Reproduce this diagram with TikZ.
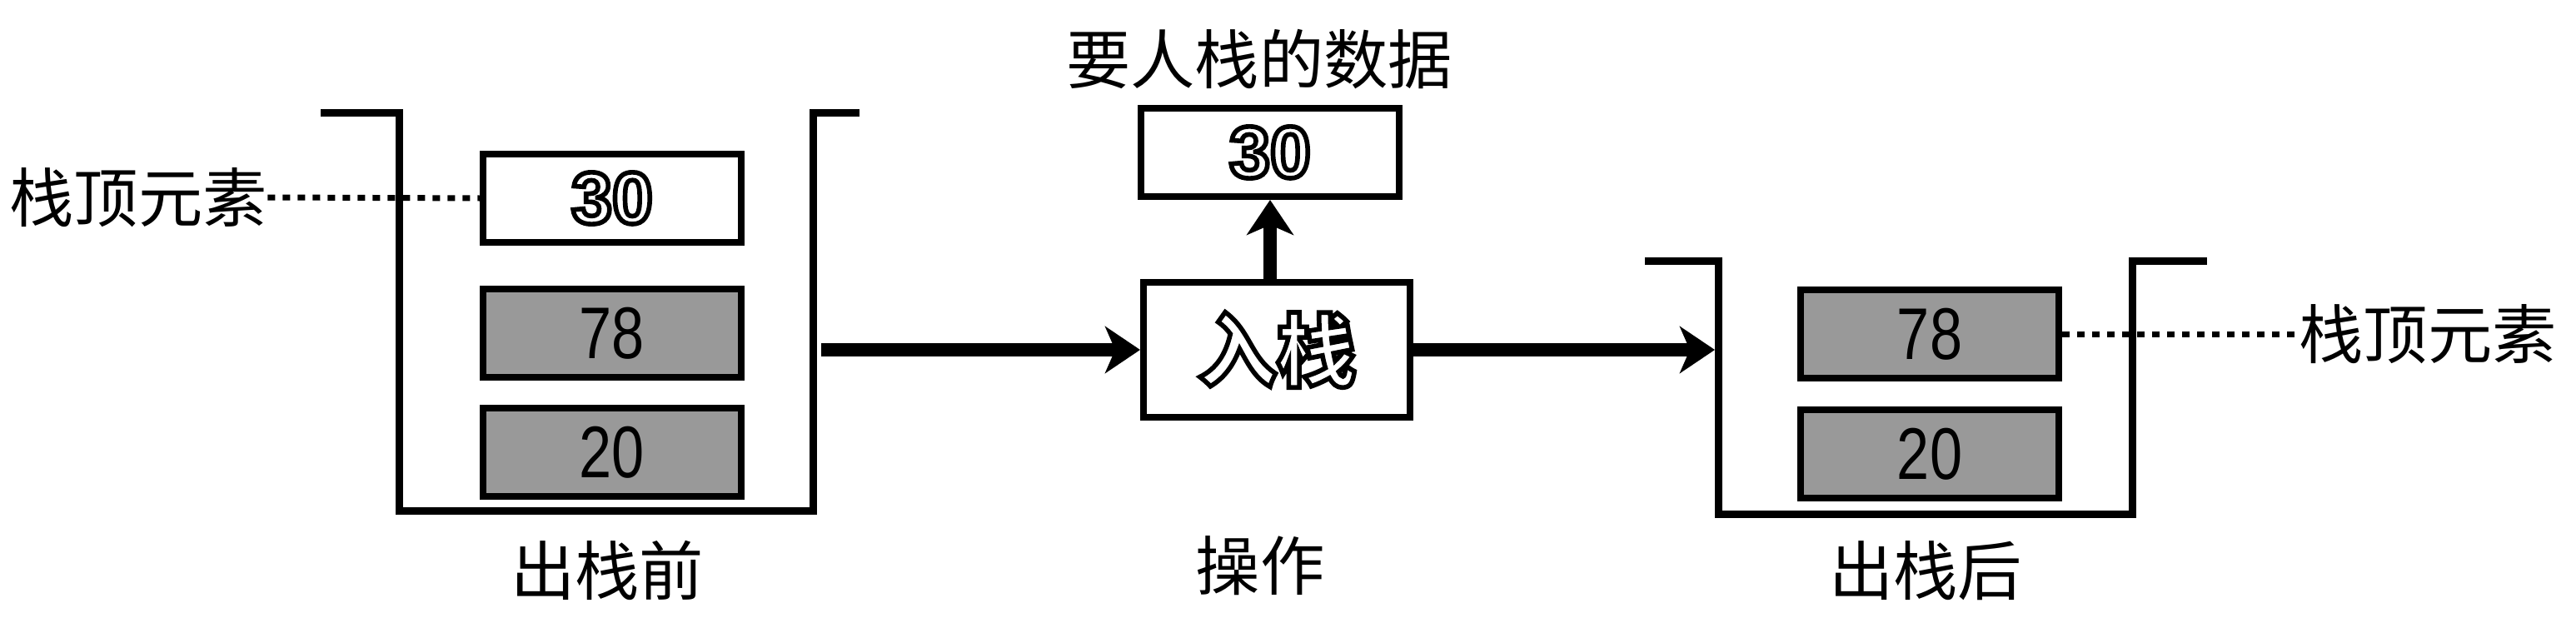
\documentclass[tikz,border=0pt]{standalone}
\usepackage{fontspec}
\setmainfont{Liberation Sans}
\newfontfamily\cjk{Noto Sans CJK SC}
\newfontfamily\narrowdigits[FakeStretch=0.8]{Liberation Sans}
\usetikzlibrary{arrows.meta,positioning}
\newcommand{\hollowtext}[1]{\special{pdf:literal direct q 1 Tr 1.6 w}#1\special{pdf:literal direct Q}}

\begin{document}
\begin{tikzpicture}[
        databox/.style={draw,line width=0.08cm,fill=white,minimum width=3.1cm,minimum height=1.06cm,inner sep=0pt,font=\narrowdigits\fontsize{25}{27}\selectfont},
        graybox/.style={databox,fill=black!40},
        opbox/.style={databox,minimum width=3.2cm,minimum height=1.62cm,font=\cjk\fontsize{27}{29}\selectfont\bfseries},
        hollow/.style={font=\fontsize{25}{27}\selectfont\bfseries},
        cnlabel/.style={font=\cjk\fontsize{22}{24}\selectfont,inner sep=0pt},
        wall/.style={line width=0.09cm},
        flow/.style={line width=0.16cm,-{Stealth[length=0.42cm,width=0.56cm,inset=0.12cm]}},
        guide/.style={line width=0.07cm,dash pattern=on 0.09cm off 0.09cm}
    ]
        \useasboundingbox (0,0) rectangle (30.93,7.41);
        % stack before
        \draw[wall] (3.85,6.06) -- (4.79,6.06) -- (4.79,1.28) -- (9.76,1.28) -- (9.76,6.06) -- (10.32,6.06);
        \node[databox,hollow] (l30) at (7.35,5.03) {\hollowtext{30}};
        \node[graybox] (l78) at (7.35,3.41) {78};
        \node[graybox] (l20) at (7.35,1.98) {20};
        \node[cnlabel] (topL) at (1.66,5.04) {栈顶元素};
        \draw[guide] (topL.east) -- (l30.west);
        \node[cnlabel] (before) at (7.29,0.56) {出栈前};
        % operation
        \node[opbox] (op) at (15.33,3.21) {\hollowtext{入栈}};
        \node[databox,hollow] (d30) at (15.25,5.58) {\hollowtext{30}};
        \node[cnlabel] (pushlbl) at (15.12,6.70) {要人栈的数据};
        \node[cnlabel] (oplbl) at (15.13,0.62) {操作};
        \coordinate (lout) at (9.86,3.21);
        \coordinate (rin) at (20.59,3.21);
        \draw[flow] (lout) -- (op.west);
        \draw[flow] (op.east) -- (rin);
        \draw[flow] (op.north -| d30.south) -- (d30.south);
        % stack after
        \draw[wall] (19.75,4.28) -- (20.63,4.28) -- (20.63,1.24) -- (25.6,1.24) -- (25.6,4.28) -- (26.5,4.28);
        \node[graybox] (r78) at (23.17,3.40) {78};
        \node[graybox] (r20) at (23.17,1.96) {20};
        \node[cnlabel] (topR) at (29.15,3.40) {栈顶元素};
        \draw[guide] (r78.east) -- (topR.west);
        \node[cnlabel] (after) at (23.12,0.56) {出栈后};
\end{tikzpicture}
\end{document}
